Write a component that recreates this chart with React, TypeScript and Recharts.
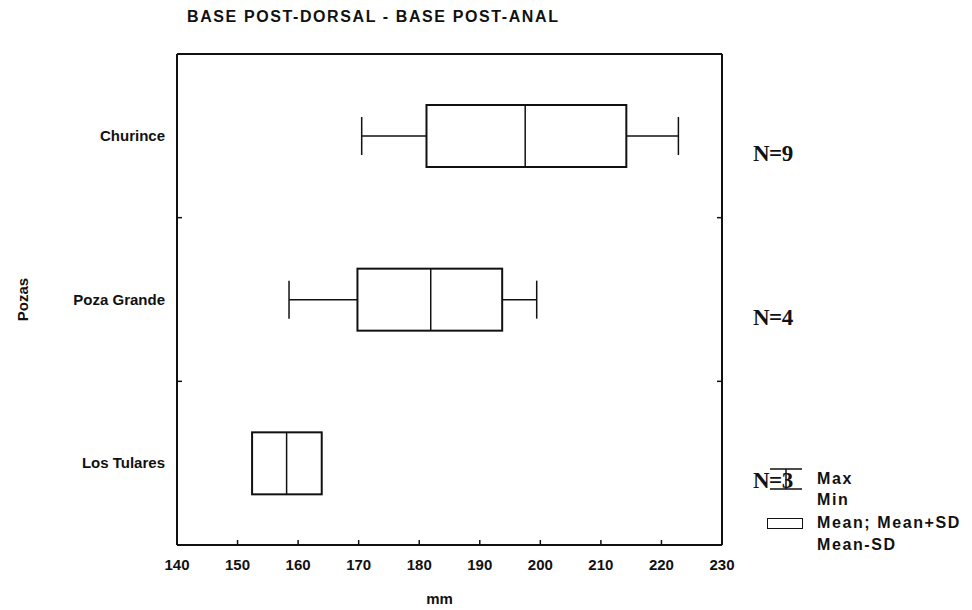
import { ComposedChart, Bar, XAxis, YAxis } from 'recharts';

// Pozas y medidas (mm)
const pozas = ['Churince', 'Poza Grande', 'Los Tulares'];
const means = [197.5, 181.9, 158.1];
const meanPlusSd = [214.2, 193.7, 163.9];
const meanMinusSd = [181.2, 169.8, 152.4];
const maxVals = [222.8, 199.4, 163.9];
const minVals = [170.5, 158.5, 152.4];
const nVals = [9, 4, 3];
const xTicks = [140, 150, 160, 170, 180, 190, 200, 210, 220, 230];

const data = pozas.map((name, i) => ({
  name,
  mean: means[i],
  lo: meanMinusSd[i],
  hi: meanPlusSd[i],
  min: minVals[i],
  max: maxVals[i],
  n: nVals[i],
}));

const SANS = '"Liberation Sans", Arial, sans-serif';
const SERIF = '"Liberation Serif", "Times New Roman", serif';
const INK = '#111';

// box from mean-sd to mean+sd, line at the mean, whiskers to min/max
const BoxShape = (props: any) => {
  const { x, y, width, height, payload } = props;
  const ppu = width / (payload.hi - payload.lo);
  const toX = (v: number) => x + (v - payload.lo) * ppu;
  const cy = y + height / 2;
  const capH = 38;
  const xMean = toX(payload.mean);
  const xMin = toX(payload.min);
  const xMax = toX(payload.max);
  return (
    <g stroke={INK} fill="none">
      {xMin < x - 0.5 && (
        <>
          <line x1={xMin} x2={x} y1={cy} y2={cy} strokeWidth={1.5} />
          <line x1={xMin} x2={xMin} y1={cy - capH / 2} y2={cy + capH / 2} strokeWidth={1.5} />
        </>
      )}
      {xMax > x + width + 0.5 && (
        <>
          <line x1={x + width} x2={xMax} y1={cy} y2={cy} strokeWidth={1.5} />
          <line x1={xMax} x2={xMax} y1={cy - capH / 2} y2={cy + capH / 2} strokeWidth={1.5} />
        </>
      )}
      <rect x={x} y={y} width={width} height={height} fill="#fff" strokeWidth={2} />
      <line x1={xMean} x2={xMean} y1={y} y2={y + height} strokeWidth={1.5} />
    </g>
  );
};

const BottomTick = (props: any) => {
  const { x, y, payload } = props;
  return (
    <g>
      <line x1={x} x2={x} y1={y} y2={y - 5} stroke={INK} strokeWidth={1.5} />
      <text x={x} y={y + 25} textAnchor="middle" fontFamily={SANS} fontWeight="bold" fontSize={15} fill={INK}>
        {payload.value}
      </text>
    </g>
  );
};

const TopTick = (props: any) => {
  const { x, y } = props;
  return <line x1={x} x2={x} y1={y} y2={y + 5} stroke={INK} strokeWidth={1.5} />;
};

const LeftTick = (props: any) => {
  const { x, y, payload, index } = props;
  const half = payload.offset || 82;
  return (
    <g>
      {index > 0 && <line x1={x} x2={x + 5} y1={y - half} y2={y - half} stroke={INK} strokeWidth={1.5} />}
      <text x={x - 12} y={y + 5} textAnchor="end" fontFamily={SANS} fontWeight="bold" fontSize={15} fill={INK}>
        {payload.value}
      </text>
    </g>
  );
};

const RightTick = (props: any) => {
  const { x, y, payload, index } = props;
  const half = payload.offset || 82;
  return (
    <g>
      {index > 0 && <line x1={x} x2={x - 5} y1={y - half} y2={y - half} stroke={INK} strokeWidth={1.5} />}
      <text x={x + 31} y={y + 25} textAnchor="start" fontFamily={SERIF} fontWeight="bold" fontSize={23} fill={INK} letterSpacing={-0.5}>
        {`N=${nVals[index]}`}
      </text>
    </g>
  );
};

const PozasLabel = (props: any) => {
  const vb = props.viewBox || { x: 0, y: 54, height: 491 };
  const cx = 22;
  const cy = vb.y + vb.height / 2;
  return (
    <text x={cx} y={cy} transform={`rotate(-90, ${cx}, ${cy})`} textAnchor="middle" dominantBaseline="central"
      fontFamily={SANS} fontWeight="bold" fontSize={15} fill={INK}>
      Pozas
    </text>
  );
};

const legendText = {
  fontFamily: SANS, fontWeight: 'bold' as const, fontSize: 16, letterSpacing: 1.6,
  color: INK, lineHeight: '22px', whiteSpace: 'nowrap' as const,
};

const BoxLegend = () => (
  <div style={{ position: 'absolute', left: 767, top: 468, width: 205, height: 90 }}>
    {/* whisker symbol, Max / Min */}
    <svg style={{ position: 'absolute', left: 0, top: 0 }} width={40} height={24}>
      <g stroke={INK} strokeWidth={1.5}>
        <line x1={3} x2={35} y1={1} y2={1} />
        <line x1={19} x2={19} y1={1} y2={21} />
        <line x1={3} x2={35} y1={21} y2={21} />
      </g>
    </svg>
    <div style={{ position: 'absolute', left: 50, top: 0, ...legendText }}>Max</div>
    <div style={{ position: 'absolute', left: 50, top: 21, ...legendText }}>Min</div>
    <div style={{ position: 'absolute', left: 0, top: 50, width: 36, height: 11, border: `1.5px solid ${INK}`, boxSizing: 'border-box' }} />
    <div style={{ position: 'absolute', left: 50, top: 44, ...legendText }}>Mean; Mean+SD</div>
    <div style={{ position: 'absolute', left: 50, top: 66, ...legendText }}>Mean-SD</div>
  </div>
);

export default function App() {
  return (
    <div style={{ position: 'absolute', left: 0, top: 0, width: 972, height: 610, background: '#fff', overflow: 'hidden' }}>
      <div
        style={{
          position: 'absolute', left: 187, top: 8, fontFamily: SANS, fontWeight: 'bold',
          fontSize: 16, letterSpacing: 1.6, color: INK, whiteSpace: 'nowrap',
        }}
      >
        BASE POST-DORSAL - BASE POST-ANAL
      </div>
      <ComposedChart
        width={972}
        height={610}
        data={data}
        layout="vertical"
        margin={{ top: 34, right: 150, bottom: 0, left: 0 }}
      >
        <XAxis
          type="number"
          domain={[140, 230]}
          ticks={xTicks}
          allowDataOverflow
          height={65}
          tickSize={0}
          tickMargin={0}
          tickLine={false}
          axisLine={{ stroke: INK, strokeWidth: 2 }}
          tick={<BottomTick />}
          interval={0}
          label={{ value: 'mm', position: 'insideBottom', offset: 6, dx: -10, fill: INK, fontFamily: SANS, fontWeight: 'bold', fontSize: 15 }}
        />
        <XAxis
          xAxisId="top"
          orientation="top"
          type="number"
          domain={[140, 230]}
          ticks={xTicks}
          height={20}
          tickSize={0}
          tickMargin={0}
          tickLine={false}
          axisLine={{ stroke: INK, strokeWidth: 2 }}
          tick={<TopTick />}
          interval={0}
        />
        <YAxis
          type="category"
          dataKey="name"
          width={177}
          tickSize={0}
          tickMargin={0}
          tickLine={false}
          axisLine={{ stroke: INK, strokeWidth: 2 }}
          tick={<LeftTick />}
          interval={0}
          label={<PozasLabel />}
        />
        <YAxis
          yAxisId="right"
          orientation="right"
          type="category"
          dataKey="name"
          width={100}
          tickSize={0}
          tickMargin={0}
          tickLine={false}
          axisLine={{ stroke: INK, strokeWidth: 2 }}
          tick={<RightTick />}
          interval={0}
        />
        <Bar
          dataKey={(d: any) => [d.lo, d.hi]}
          barSize={62}
          shape={<BoxShape />}
          isAnimationActive={false}
        />
      </ComposedChart>
      <BoxLegend />
    </div>
  );
}
